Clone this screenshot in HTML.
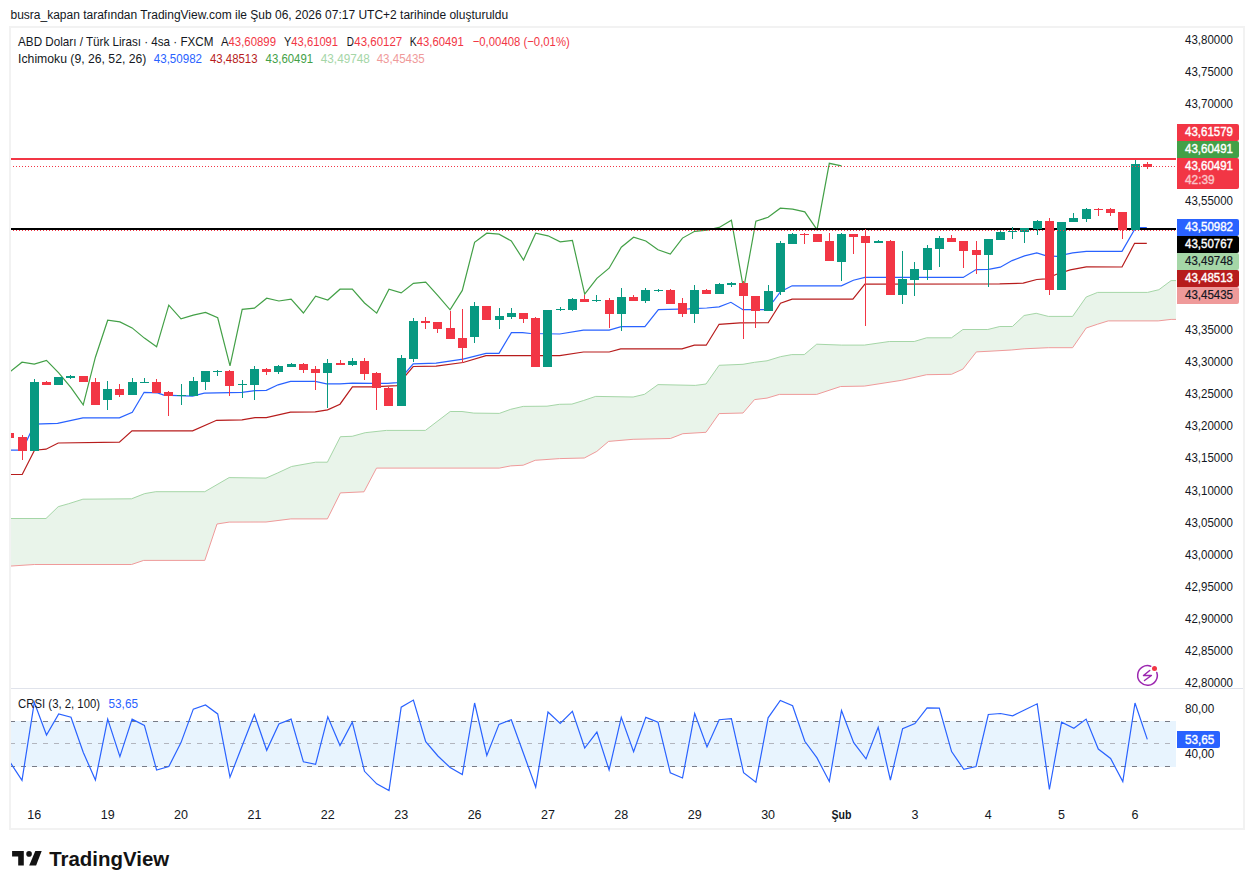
<!DOCTYPE html>
<html><head><meta charset="utf-8"><style>
html,body{margin:0;padding:0;background:#fff;width:1254px;height:889px;overflow:hidden}
svg{display:block;font-family:"Liberation Sans",sans-serif}
</style></head><body>
<svg width="1254" height="889" viewBox="0 0 1254 889">
<rect x="0" y="0" width="1254" height="889" fill="#fff"/>
<rect x="10" y="27" width="1234" height="802" fill="none" stroke="#F2F2F2" stroke-width="2"/>
<rect x="11" y="688" width="1232" height="1" fill="#E0E3EB"/>
<defs><clipPath id="cp"><rect x="11" y="28" width="1165" height="660"/></clipPath><clipPath id="cp2"><rect x="11" y="689" width="1165" height="106"/></clipPath></defs>
<g clip-path="url(#cp)">
<polygon points="10,518.5 46,518.5 58.2,506.7 68.7,503.7 82.9,499.2 131.5,498.8 144.7,493.6 155.8,491.7 204.8,491.7 229.1,477.6 266,478.1 277.8,472.9 291.5,466.5 315.6,462.2 327.4,462.2 340.4,436.7 352.2,436.3 365.2,432.7 386.4,430.4 425.4,430.4 450.2,411.5 462,411.5 473.8,413.1 499.3,413.4 510.7,409.3 523.2,406.4 547,406.2 559.5,404.3 571.9,404.1 583.3,400.6 595.7,396.4 633.1,397 644.5,394.3 658,384.6 695.3,385.4 706,384 719.1,365.3 743,364.3 754.5,362.3 767,360.8 780.4,356.7 791.8,354.6 804.3,354.6 816.7,344.2 841.6,345.1 864.4,345.1 889.3,341.5 914.2,341.5 926.6,337.8 951.5,337.8 962.9,329.5 987.8,329.5 999.8,326.5 1012.4,326.5 1024.1,315.5 1036.2,313.3 1048.3,316.4 1072.6,316.4 1086.2,297 1097.6,292.4 1147.6,292.4 1158.9,289.7 1171.1,280.6 1176,280.6 1176,319.4 1171.1,319.4 1158.2,320.9 1108.2,320.9 1097.6,324.2 1086.2,328 1072.6,347.7 1048.3,347.7 1024.1,348.8 1011.2,350 990,351.2 976.4,351.9 962.9,369.1 951.5,374.3 926.6,374.7 901.7,380.3 864.4,386.1 840.6,386.5 816.7,394.4 779.4,394.4 767,398.1 754.5,399.6 743,413 719.1,413.6 706,432.3 682.8,433.7 670.4,438.5 633.1,439.3 608.6,441.4 596.8,451.4 584.3,458 559.5,458.6 535.2,460.3 523.2,465.2 510.7,465.9 499.3,468.1 376.5,468.1 364,491.8 340.4,492.9 327.4,518.9 290.8,518.9 266,522 229.1,522.1 217,524 204.8,560.4 143.7,560.4 131.5,564.5 34.3,564.5 10,566.1" fill="#E9F4EA"/>
<polyline points="10,518.5 46,518.5 58.2,506.7 68.7,503.7 82.9,499.2 131.5,498.8 144.7,493.6 155.8,491.7 204.8,491.7 229.1,477.6 266,478.1 277.8,472.9 291.5,466.5 315.6,462.2 327.4,462.2 340.4,436.7 352.2,436.3 365.2,432.7 386.4,430.4 425.4,430.4 450.2,411.5 462,411.5 473.8,413.1 499.3,413.4 510.7,409.3 523.2,406.4 547,406.2 559.5,404.3 571.9,404.1 583.3,400.6 595.7,396.4 633.1,397 644.5,394.3 658,384.6 695.3,385.4 706,384 719.1,365.3 743,364.3 754.5,362.3 767,360.8 780.4,356.7 791.8,354.6 804.3,354.6 816.7,344.2 841.6,345.1 864.4,345.1 889.3,341.5 914.2,341.5 926.6,337.8 951.5,337.8 962.9,329.5 987.8,329.5 999.8,326.5 1012.4,326.5 1024.1,315.5 1036.2,313.3 1048.3,316.4 1072.6,316.4 1086.2,297 1097.6,292.4 1147.6,292.4 1158.9,289.7 1171.1,280.6 1176,280.6" fill="none" stroke="#A5D6A7" stroke-width="1"/>
<polyline points="10,566.1 34.3,564.5 131.5,564.5 143.7,560.4 204.8,560.4 217,524 229.1,522.1 266,522 290.8,518.9 327.4,518.9 340.4,492.9 364,491.8 376.5,468.1 499.3,468.1 510.7,465.9 523.2,465.2 535.2,460.3 559.5,458.6 584.3,458 596.8,451.4 608.6,441.4 633.1,439.3 670.4,438.5 682.8,433.7 706,432.3 719.1,413.6 743,413 754.5,399.6 767,398.1 779.4,394.4 816.7,394.4 840.6,386.5 864.4,386.1 901.7,380.3 926.6,374.7 951.5,374.3 962.9,369.1 976.4,351.9 990,351.2 1011.2,350 1024.1,348.8 1048.3,347.7 1072.6,347.7 1086.2,328 1097.6,324.2 1108.2,320.9 1158.2,320.9 1171.1,319.4 1176,319.4" fill="none" stroke="#EF9A9A" stroke-width="1"/>
<polyline points="9.8,371.9 22,362.2 34.3,364.1 46.5,360.4 58.7,372.8 71,387.7 83.2,404.9 95.4,357.2 107.7,320.2 119.9,321.9 132.1,327.9 144.4,338.1 156.6,346.8 168.8,305.2 181,318.9 193.3,315.2 205.5,312.4 217.7,317.8 230,365.9 242.2,309.3 254.4,308.2 266.7,298.2 278.9,301 291.1,299.2 303.4,313 315.6,296.2 327.8,300 340,289.2 352.3,289.2 364.5,303 376.7,313.1 389,289.2 401.2,292.9 413.4,283.3 425.7,282.2 437.9,295.7 450.1,309.8 462.3,290.4 474.6,242.3 486.8,233.2 499,234.2 511.3,241 523.5,260 535.7,233.2 548,235.8 560.2,241.9 572.4,240.4 584.7,294.1 596.9,278.3 609.1,268.2 621.3,247.2 633.6,237.2 645.8,241 658,249.8 670.3,254 682.5,238.1 694.7,231.3 707,230.2 719.2,227.4 731.4,220.2 743.6,288.9 755.9,221.2 768.1,217.3 780.3,208.2 792.6,209.2 804.8,211.9 817,229.6 829.3,163.3 841.5,165.9" fill="none" stroke="#43A047" stroke-width="1.2"/>
<polyline points="10,474.5 22.2,474.5 34.5,450.2 46,449.2 58.2,443 119.4,442.1 132,430.8 192.6,430.8 216.6,420.3 242,419.9 255,417.6 266.3,417.7 290.5,412.1 315.2,411.8 327.6,409.9 340,404.2 352.4,386.8 372,386.8 397,385.7 413.2,366.5 436.1,366.1 463.1,362.5 486,355.7 559.7,355.7 583.4,352 609.2,352 620.7,348.8 682,348.8 694.4,345.2 706.2,345.2 719.1,324.3 740,322.9 768.2,322.7 780.5,303.3 792.1,299.1 852.9,299.1 864.9,284.1 999.7,283.9 1023.2,283.1 1036.8,279.5 1045.5,278.9 1056.6,274.2 1070.2,269.9 1086.3,266.8 1122,267 1134.6,243.3 1146.8,243.3" fill="none" stroke="#B71C1C" stroke-width="1.2"/>
<polyline points="10,450.2 22.3,450.2 34.5,424.2 57.6,423.3 82.9,417.8 119.4,417.8 132.3,412.3 144.1,392.3 157.6,392.9 163.8,395.1 192.5,396.2 204.3,393.2 242,392.3 255,390.6 266.3,390.4 278.1,384.8 290.5,381.4 315.2,381.4 326.5,383.8 340,383.8 352.4,383.1 372,383.4 387.5,383.4 397,382.7 413.2,363.8 436.1,363.2 463.1,359.1 486,353.3 499,353.4 511.4,332.6 522.6,332.6 530.5,333.5 559.7,334 583.4,330.1 609.2,330.1 621.2,326.6 644.9,326.6 658.4,309.7 688.7,308.9 706.7,308 719.1,306.8 730.9,302.3 742.9,309.7 764.3,309.7 773.3,301.3 780.5,291.6 792.1,285.8 841.3,285.8 853.4,280.2 864.9,277.4 963.2,277.4 976.1,269.6 988.6,269.3 1000.3,267.2 1012.1,260.6 1024.5,255.9 1036.8,252.9 1045.5,255.6 1056.6,256.3 1072.7,252.9 1086.3,251.3 1122,251.3 1134.6,229.5 1140.2,227.5 1146.8,227.5" fill="none" stroke="#2962FF" stroke-width="1.2"/>
<rect x="11" y="228" width="1165" height="2" fill="#000"/>
<g shape-rendering="crispEdges">
<rect x="9" y="433" width="1" height="5" fill="#F23645"/>
<rect x="5" y="433" width="9" height="5" fill="#F23645"/>
<rect x="22" y="435" width="1" height="25" fill="#F23645"/>
<rect x="18" y="437" width="9" height="14" fill="#F23645"/>
<rect x="34" y="379" width="1" height="72" fill="#089981"/>
<rect x="30" y="382" width="9" height="69" fill="#089981"/>
<rect x="46" y="381" width="1" height="4" fill="#F23645"/>
<rect x="42" y="382" width="9" height="3" fill="#F23645"/>
<rect x="58" y="377" width="1" height="8" fill="#089981"/>
<rect x="54" y="377" width="9" height="8" fill="#089981"/>
<rect x="70" y="375" width="1" height="4" fill="#089981"/>
<rect x="66" y="376" width="9" height="2" fill="#089981"/>
<rect x="83" y="376" width="1" height="6" fill="#F23645"/>
<rect x="79" y="376" width="9" height="6" fill="#F23645"/>
<rect x="95" y="378" width="1" height="27" fill="#F23645"/>
<rect x="91" y="382" width="9" height="23" fill="#F23645"/>
<rect x="107" y="381" width="1" height="29" fill="#089981"/>
<rect x="103" y="389" width="9" height="11" fill="#089981"/>
<rect x="119" y="384" width="1" height="13" fill="#F23645"/>
<rect x="115" y="389" width="9" height="6" fill="#F23645"/>
<rect x="132" y="378" width="1" height="17" fill="#089981"/>
<rect x="128" y="382" width="9" height="13" fill="#089981"/>
<rect x="144" y="378" width="1" height="5" fill="#089981"/>
<rect x="140" y="382" width="9" height="1" fill="#089981"/>
<rect x="156" y="379" width="1" height="14" fill="#F23645"/>
<rect x="152" y="382" width="9" height="11" fill="#F23645"/>
<rect x="168" y="391" width="1" height="25" fill="#F23645"/>
<rect x="164" y="392" width="9" height="4" fill="#F23645"/>
<rect x="181" y="384" width="1" height="21" fill="#089981"/>
<rect x="177" y="395" width="9" height="1" fill="#089981"/>
<rect x="193" y="377" width="1" height="19" fill="#089981"/>
<rect x="189" y="381" width="9" height="15" fill="#089981"/>
<rect x="205" y="371" width="1" height="19" fill="#089981"/>
<rect x="201" y="371" width="9" height="11" fill="#089981"/>
<rect x="217" y="370" width="1" height="6" fill="#089981"/>
<rect x="213" y="371" width="9" height="1" fill="#089981"/>
<rect x="229" y="370" width="1" height="26" fill="#F23645"/>
<rect x="225" y="371" width="9" height="15" fill="#F23645"/>
<rect x="242" y="380" width="1" height="18" fill="#089981"/>
<rect x="238" y="384" width="9" height="1" fill="#089981"/>
<rect x="254" y="366" width="1" height="34" fill="#089981"/>
<rect x="250" y="369" width="9" height="16" fill="#089981"/>
<rect x="266" y="368" width="1" height="7" fill="#F23645"/>
<rect x="262" y="369" width="9" height="3" fill="#F23645"/>
<rect x="278" y="365" width="1" height="9" fill="#089981"/>
<rect x="274" y="366" width="9" height="6" fill="#089981"/>
<rect x="291" y="363" width="1" height="4" fill="#089981"/>
<rect x="287" y="364" width="9" height="3" fill="#089981"/>
<rect x="303" y="363" width="1" height="10" fill="#F23645"/>
<rect x="299" y="364" width="9" height="6" fill="#F23645"/>
<rect x="315" y="366" width="1" height="24" fill="#F23645"/>
<rect x="311" y="369" width="9" height="4" fill="#F23645"/>
<rect x="327" y="359" width="1" height="49" fill="#089981"/>
<rect x="323" y="363" width="9" height="10" fill="#089981"/>
<rect x="340" y="360" width="1" height="5" fill="#F23645"/>
<rect x="336" y="363" width="9" height="2" fill="#F23645"/>
<rect x="352" y="358" width="1" height="8" fill="#089981"/>
<rect x="348" y="361" width="9" height="4" fill="#089981"/>
<rect x="364" y="358" width="1" height="22" fill="#F23645"/>
<rect x="360" y="361" width="9" height="13" fill="#F23645"/>
<rect x="376" y="372" width="1" height="38" fill="#F23645"/>
<rect x="372" y="373" width="9" height="15" fill="#F23645"/>
<rect x="388" y="387" width="1" height="19" fill="#F23645"/>
<rect x="384" y="388" width="9" height="18" fill="#F23645"/>
<rect x="401" y="355" width="1" height="51" fill="#089981"/>
<rect x="397" y="358" width="9" height="48" fill="#089981"/>
<rect x="413" y="318" width="1" height="44" fill="#089981"/>
<rect x="409" y="321" width="9" height="38" fill="#089981"/>
<rect x="425" y="317" width="1" height="12" fill="#F23645"/>
<rect x="421" y="321" width="9" height="2" fill="#F23645"/>
<rect x="437" y="322" width="1" height="11" fill="#F23645"/>
<rect x="433" y="322" width="9" height="7" fill="#F23645"/>
<rect x="450" y="311" width="1" height="28" fill="#F23645"/>
<rect x="446" y="328" width="9" height="11" fill="#F23645"/>
<rect x="462" y="309" width="1" height="54" fill="#F23645"/>
<rect x="458" y="338" width="9" height="10" fill="#F23645"/>
<rect x="474" y="302" width="1" height="41" fill="#089981"/>
<rect x="470" y="306" width="9" height="31" fill="#089981"/>
<rect x="486" y="306" width="1" height="14" fill="#F23645"/>
<rect x="482" y="306" width="9" height="14" fill="#F23645"/>
<rect x="499" y="308" width="1" height="21" fill="#089981"/>
<rect x="495" y="316" width="9" height="4" fill="#089981"/>
<rect x="511" y="308" width="1" height="11" fill="#089981"/>
<rect x="507" y="313" width="9" height="4" fill="#089981"/>
<rect x="523" y="313" width="1" height="10" fill="#F23645"/>
<rect x="519" y="313" width="9" height="6" fill="#F23645"/>
<rect x="535" y="317" width="1" height="50" fill="#F23645"/>
<rect x="531" y="318" width="9" height="49" fill="#F23645"/>
<rect x="547" y="310" width="1" height="57" fill="#089981"/>
<rect x="543" y="310" width="9" height="57" fill="#089981"/>
<rect x="560" y="307" width="1" height="4" fill="#089981"/>
<rect x="556" y="309" width="9" height="1" fill="#089981"/>
<rect x="572" y="298" width="1" height="13" fill="#089981"/>
<rect x="568" y="299" width="9" height="11" fill="#089981"/>
<rect x="584" y="295" width="1" height="7" fill="#F23645"/>
<rect x="580" y="299" width="9" height="3" fill="#F23645"/>
<rect x="596" y="295" width="1" height="7" fill="#089981"/>
<rect x="592" y="300" width="9" height="1" fill="#089981"/>
<rect x="609" y="298" width="1" height="30" fill="#F23645"/>
<rect x="605" y="300" width="9" height="14" fill="#F23645"/>
<rect x="621" y="288" width="1" height="43" fill="#089981"/>
<rect x="617" y="297" width="9" height="17" fill="#089981"/>
<rect x="633" y="295" width="1" height="6" fill="#F23645"/>
<rect x="629" y="297" width="9" height="4" fill="#F23645"/>
<rect x="645" y="288" width="1" height="15" fill="#089981"/>
<rect x="641" y="290" width="9" height="11" fill="#089981"/>
<rect x="658" y="289" width="1" height="3" fill="#089981"/>
<rect x="654" y="290" width="9" height="1" fill="#089981"/>
<rect x="670" y="289" width="1" height="15" fill="#F23645"/>
<rect x="666" y="290" width="9" height="14" fill="#F23645"/>
<rect x="682" y="298" width="1" height="19" fill="#F23645"/>
<rect x="678" y="303" width="9" height="11" fill="#F23645"/>
<rect x="694" y="285" width="1" height="38" fill="#089981"/>
<rect x="690" y="290" width="9" height="24" fill="#089981"/>
<rect x="706" y="289" width="1" height="5" fill="#F23645"/>
<rect x="702" y="290" width="9" height="4" fill="#F23645"/>
<rect x="719" y="283" width="1" height="11" fill="#089981"/>
<rect x="715" y="284" width="9" height="10" fill="#089981"/>
<rect x="731" y="282" width="1" height="5" fill="#089981"/>
<rect x="727" y="283" width="9" height="2" fill="#089981"/>
<rect x="743" y="281" width="1" height="58" fill="#F23645"/>
<rect x="739" y="283" width="9" height="13" fill="#F23645"/>
<rect x="755" y="296" width="1" height="32" fill="#F23645"/>
<rect x="751" y="296" width="9" height="15" fill="#F23645"/>
<rect x="768" y="285" width="1" height="26" fill="#089981"/>
<rect x="764" y="291" width="9" height="20" fill="#089981"/>
<rect x="780" y="241" width="1" height="54" fill="#089981"/>
<rect x="776" y="243" width="9" height="49" fill="#089981"/>
<rect x="792" y="233" width="1" height="11" fill="#089981"/>
<rect x="788" y="234" width="9" height="10" fill="#089981"/>
<rect x="804" y="233" width="1" height="11" fill="#F23645"/>
<rect x="800" y="234" width="9" height="1" fill="#F23645"/>
<rect x="817" y="234" width="1" height="8" fill="#F23645"/>
<rect x="813" y="234" width="9" height="8" fill="#F23645"/>
<rect x="829" y="233" width="1" height="28" fill="#F23645"/>
<rect x="825" y="241" width="9" height="20" fill="#F23645"/>
<rect x="841" y="233" width="1" height="48" fill="#089981"/>
<rect x="837" y="234" width="9" height="28" fill="#089981"/>
<rect x="853" y="234" width="1" height="20" fill="#F23645"/>
<rect x="849" y="234" width="9" height="3" fill="#F23645"/>
<rect x="865" y="229" width="1" height="97" fill="#F23645"/>
<rect x="861" y="236" width="9" height="7" fill="#F23645"/>
<rect x="878" y="240" width="1" height="3" fill="#089981"/>
<rect x="874" y="241" width="9" height="2" fill="#089981"/>
<rect x="890" y="240" width="1" height="55" fill="#F23645"/>
<rect x="886" y="241" width="9" height="54" fill="#F23645"/>
<rect x="902" y="251" width="1" height="53" fill="#089981"/>
<rect x="898" y="279" width="9" height="16" fill="#089981"/>
<rect x="914" y="262" width="1" height="34" fill="#089981"/>
<rect x="910" y="269" width="9" height="11" fill="#089981"/>
<rect x="927" y="245" width="1" height="35" fill="#089981"/>
<rect x="923" y="248" width="9" height="22" fill="#089981"/>
<rect x="939" y="236" width="1" height="31" fill="#089981"/>
<rect x="935" y="238" width="9" height="11" fill="#089981"/>
<rect x="951" y="235" width="1" height="7" fill="#F23645"/>
<rect x="947" y="238" width="9" height="4" fill="#F23645"/>
<rect x="963" y="241" width="1" height="27" fill="#F23645"/>
<rect x="959" y="241" width="9" height="10" fill="#F23645"/>
<rect x="976" y="241" width="1" height="33" fill="#F23645"/>
<rect x="972" y="250" width="9" height="5" fill="#F23645"/>
<rect x="988" y="239" width="1" height="48" fill="#089981"/>
<rect x="984" y="239" width="9" height="16" fill="#089981"/>
<rect x="1000" y="231" width="1" height="9" fill="#089981"/>
<rect x="996" y="232" width="9" height="8" fill="#089981"/>
<rect x="1012" y="227" width="1" height="12" fill="#089981"/>
<rect x="1008" y="231" width="9" height="1" fill="#089981"/>
<rect x="1024" y="228" width="1" height="15" fill="#089981"/>
<rect x="1020" y="228" width="9" height="4" fill="#089981"/>
<rect x="1037" y="220" width="1" height="15" fill="#089981"/>
<rect x="1033" y="221" width="9" height="8" fill="#089981"/>
<rect x="1049" y="218" width="1" height="77" fill="#F23645"/>
<rect x="1045" y="221" width="9" height="69" fill="#F23645"/>
<rect x="1061" y="222" width="1" height="68" fill="#089981"/>
<rect x="1057" y="222" width="9" height="68" fill="#089981"/>
<rect x="1073" y="213" width="1" height="9" fill="#089981"/>
<rect x="1069" y="218" width="9" height="4" fill="#089981"/>
<rect x="1086" y="208" width="1" height="14" fill="#089981"/>
<rect x="1082" y="209" width="9" height="10" fill="#089981"/>
<rect x="1098" y="208" width="1" height="8" fill="#F23645"/>
<rect x="1094" y="209" width="9" height="1" fill="#F23645"/>
<rect x="1110" y="208" width="1" height="8" fill="#F23645"/>
<rect x="1106" y="209" width="9" height="4" fill="#F23645"/>
<rect x="1122" y="212" width="1" height="27" fill="#F23645"/>
<rect x="1118" y="212" width="9" height="18" fill="#F23645"/>
<rect x="1135" y="160" width="1" height="70" fill="#089981"/>
<rect x="1131" y="164" width="9" height="66" fill="#089981"/>
<rect x="1147" y="162" width="1" height="7" fill="#F23645"/>
<rect x="1143" y="164" width="9" height="3" fill="#F23645"/>
</g>
<rect x="11" y="158" width="1165" height="2" fill="#F23645" shape-rendering="crispEdges"/>
<line x1="10" y1="166.5" x2="1176" y2="166.5" stroke="#F23645" stroke-width="1" stroke-dasharray="1 2"/>
<line x1="10" y1="230.5" x2="1176" y2="230.5" stroke="#F23645" stroke-width="1" stroke-dasharray="1 2"/>
</g>
<g clip-path="url(#cp2)">
<rect x="11" y="721" width="1165" height="46" fill="#E8F4FE"/>
<line x1="10" y1="721.5" x2="1176" y2="721.5" stroke="#787B86" stroke-width="1" stroke-dasharray="5 6"/>
<line x1="10" y1="743.5" x2="1176" y2="743.5" stroke="#B2B5BE" stroke-width="1" stroke-dasharray="5 6"/>
<line x1="10" y1="766.5" x2="1176" y2="766.5" stroke="#787B86" stroke-width="1" stroke-dasharray="5 6"/>
<polyline points="9.8,761.8 22,780.3 34.3,702.4 46.5,735 58.7,713.9 71,717.2 83.2,752.2 95.4,780 107.7,719.1 119.9,756.6 132.1,719.1 144.4,725.4 156.6,770 168.8,766.6 181,742.6 193.3,709.1 205.5,704.9 217.7,713.9 230,777.1 242.2,745.8 254.4,714.5 266.7,750.3 278.9,723.9 291.1,719.1 303.4,761.8 315.6,764.3 327.8,716.8 340,745.5 352.3,722.2 364.5,771.3 376.7,783.8 389,790.5 401.2,707.2 413.4,700.1 425.7,741.7 437.9,756 450.1,767.5 462.3,774.6 474.6,703 486.8,755.5 499,724.4 511.3,719.7 523.5,753.5 535.7,787.2 548,712 560.2,723.5 572.4,711.4 584.7,748 596.9,732.1 609.1,770 621.3,717.4 633.6,751.6 645.8,717.4 658,722.2 670.3,772.7 682.5,778 694.7,713.5 707,747 719.2,719.7 731.4,718.7 743.6,772.7 755.9,782.2 768.1,717.8 780.3,700.5 792.6,705.7 804.8,741.3 817,757.9 829.3,781.5 841.5,710.5 853.7,742.6 866,758.9 878.2,727.3 890.4,780 902.6,728.7 914.9,723.5 927.1,707.8 939.3,708.2 951.6,751.6 963.8,769.4 976,766.6 988.3,714.5 1000.5,713.5 1012.7,715.8 1025,709.7 1037.2,703.8 1049.4,789.5 1061.6,722.2 1073.9,728.3 1086.1,719.1 1098.3,749 1110.6,758.5 1122.8,781.5 1135,703 1147.3,739.4" fill="none" stroke="#2962FF" stroke-width="1.2"/>
</g>
<text x="10.5" y="18.8" font-size="12.5" fill="#131722" font-weight="normal" text-anchor="start" textLength="497.6" lengthAdjust="spacingAndGlyphs">busra_kapan tarafından TradingView.com ile Şub 06, 2026 07:17 UTC+2 tarihinde oluşturuldu</text>
<text x="18.1" y="46" font-size="12.8" fill="#131722" font-weight="normal" text-anchor="start" textLength="195.4" lengthAdjust="spacingAndGlyphs">ABD Doları / Türk Lirası · 4sa · FXCM</text>
<text x="220.9" y="46" font-size="12.8" fill="#131722" font-weight="normal" text-anchor="start" textLength="7.6" lengthAdjust="spacingAndGlyphs">A</text>
<text x="228.5" y="46" font-size="12.8" fill="#F23645" font-weight="normal" text-anchor="start" textLength="47.5" lengthAdjust="spacingAndGlyphs">43,60899</text>
<text x="284" y="46" font-size="12.8" fill="#131722" font-weight="normal" text-anchor="start" textLength="7.3" lengthAdjust="spacingAndGlyphs">Y</text>
<text x="291.3" y="46" font-size="12.8" fill="#F23645" font-weight="normal" text-anchor="start" textLength="46.8" lengthAdjust="spacingAndGlyphs">43,61091</text>
<text x="346.7" y="46" font-size="12.8" fill="#131722" font-weight="normal" text-anchor="start" textLength="7.2" lengthAdjust="spacingAndGlyphs">D</text>
<text x="354.3" y="46" font-size="12.8" fill="#F23645" font-weight="normal" text-anchor="start" textLength="47.9" lengthAdjust="spacingAndGlyphs">43,60127</text>
<text x="409.8" y="46" font-size="12.8" fill="#131722" font-weight="normal" text-anchor="start" textLength="7" lengthAdjust="spacingAndGlyphs">K</text>
<text x="416.8" y="46" font-size="12.8" fill="#F23645" font-weight="normal" text-anchor="start" textLength="47.1" lengthAdjust="spacingAndGlyphs">43,60491</text>
<text x="472.7" y="46" font-size="12.8" fill="#F23645" font-weight="normal" text-anchor="start" textLength="97.1" lengthAdjust="spacingAndGlyphs">−0,00408 (−0,01%)</text>
<text x="18.1" y="62.8" font-size="12.8" fill="#131722" font-weight="normal" text-anchor="start" textLength="128.3" lengthAdjust="spacingAndGlyphs">Ichimoku (9, 26, 52, 26)</text>
<text x="153.8" y="62.8" font-size="12.8" fill="#2962FF" font-weight="normal" text-anchor="start" textLength="48.2" lengthAdjust="spacingAndGlyphs">43,50982</text>
<text x="210" y="62.8" font-size="12.8" fill="#B71C1C" font-weight="normal" text-anchor="start" textLength="47.5" lengthAdjust="spacingAndGlyphs">43,48513</text>
<text x="265.6" y="62.8" font-size="12.8" fill="#43A047" font-weight="normal" text-anchor="start" textLength="47.5" lengthAdjust="spacingAndGlyphs">43,60491</text>
<text x="320.8" y="62.8" font-size="12.8" fill="#A5D6A7" font-weight="normal" text-anchor="start" textLength="49" lengthAdjust="spacingAndGlyphs">43,49748</text>
<text x="376.7" y="62.8" font-size="12.8" fill="#EF9A9A" font-weight="normal" text-anchor="start" textLength="48.1" lengthAdjust="spacingAndGlyphs">43,45435</text>
<text x="1185" y="44" font-size="13" fill="#131722" font-weight="normal" text-anchor="start" textLength="48" lengthAdjust="spacingAndGlyphs">43,80000</text>
<text x="1185" y="76.1" font-size="13" fill="#131722" font-weight="normal" text-anchor="start" textLength="48" lengthAdjust="spacingAndGlyphs">43,75000</text>
<text x="1185" y="108.3" font-size="13" fill="#131722" font-weight="normal" text-anchor="start" textLength="48" lengthAdjust="spacingAndGlyphs">43,70000</text>
<text x="1185" y="204.8" font-size="13" fill="#131722" font-weight="normal" text-anchor="start" textLength="48" lengthAdjust="spacingAndGlyphs">43,55000</text>
<text x="1185" y="333.9" font-size="13" fill="#131722" font-weight="normal" text-anchor="start" textLength="48" lengthAdjust="spacingAndGlyphs">43,35000</text>
<text x="1185" y="365.9" font-size="13" fill="#131722" font-weight="normal" text-anchor="start" textLength="48" lengthAdjust="spacingAndGlyphs">43,30000</text>
<text x="1185" y="398.1" font-size="13" fill="#131722" font-weight="normal" text-anchor="start" textLength="48" lengthAdjust="spacingAndGlyphs">43,25000</text>
<text x="1185" y="430.3" font-size="13" fill="#131722" font-weight="normal" text-anchor="start" textLength="48" lengthAdjust="spacingAndGlyphs">43,20000</text>
<text x="1185" y="462.4" font-size="13" fill="#131722" font-weight="normal" text-anchor="start" textLength="48" lengthAdjust="spacingAndGlyphs">43,15000</text>
<text x="1185" y="494.6" font-size="13" fill="#131722" font-weight="normal" text-anchor="start" textLength="48" lengthAdjust="spacingAndGlyphs">43,10000</text>
<text x="1185" y="526.7" font-size="13" fill="#131722" font-weight="normal" text-anchor="start" textLength="48" lengthAdjust="spacingAndGlyphs">43,05000</text>
<text x="1185" y="558.9" font-size="13" fill="#131722" font-weight="normal" text-anchor="start" textLength="48" lengthAdjust="spacingAndGlyphs">43,00000</text>
<text x="1185" y="591" font-size="13" fill="#131722" font-weight="normal" text-anchor="start" textLength="48" lengthAdjust="spacingAndGlyphs">42,95000</text>
<text x="1185" y="623.2" font-size="13" fill="#131722" font-weight="normal" text-anchor="start" textLength="48" lengthAdjust="spacingAndGlyphs">42,90000</text>
<text x="1185" y="654.9" font-size="13" fill="#131722" font-weight="normal" text-anchor="start" textLength="48" lengthAdjust="spacingAndGlyphs">42,85000</text>
<text x="1185" y="686.8" font-size="13" fill="#131722" font-weight="normal" text-anchor="start" textLength="48" lengthAdjust="spacingAndGlyphs">42,80000</text>
<path d="M1177 124 H1237 Q1239 124 1239 126 V139 Q1239 141 1237 141 H1177 Z" fill="#F23645"/>
<text x="1185" y="136.3" font-size="13" fill="#fff" font-weight="normal" text-anchor="start" textLength="48" lengthAdjust="spacingAndGlyphs" stroke="#fff" stroke-width="0.4">43,61579</text>
<path d="M1177 141 H1237 Q1239 141 1239 143 V156 Q1239 158 1237 158 H1177 Z" fill="#43A047"/>
<text x="1185" y="153.3" font-size="13" fill="#fff" font-weight="normal" text-anchor="start" textLength="48" lengthAdjust="spacingAndGlyphs" stroke="#fff" stroke-width="0.4">43,60491</text>
<path d="M1177 158 H1237 Q1239 158 1239 160 V187 Q1239 189 1237 189 H1177 Z" fill="#F23645"/>
<text x="1185" y="170.3" font-size="13" fill="#fff" font-weight="normal" text-anchor="start" textLength="48" lengthAdjust="spacingAndGlyphs" stroke="#fff" stroke-width="0.4">43,60491</text>
<path d="M1177 219 H1237 Q1239 219 1239 221 V234 Q1239 236 1237 236 H1177 Z" fill="#2962FF"/>
<text x="1185" y="231.3" font-size="13" fill="#fff" font-weight="normal" text-anchor="start" textLength="48" lengthAdjust="spacingAndGlyphs" stroke="#fff" stroke-width="0.4">43,50982</text>
<path d="M1177 236 H1237 Q1239 236 1239 238 V251 Q1239 253 1237 253 H1177 Z" fill="#000000"/>
<text x="1185" y="248.3" font-size="13" fill="#fff" font-weight="normal" text-anchor="start" textLength="48" lengthAdjust="spacingAndGlyphs" stroke="#fff" stroke-width="0.4">43,50767</text>
<path d="M1177 253 H1237 Q1239 253 1239 255 V268 Q1239 270 1237 270 H1177 Z" fill="#A5D6A7"/>
<text x="1185" y="265.3" font-size="13" fill="#131722" font-weight="normal" text-anchor="start" textLength="48" lengthAdjust="spacingAndGlyphs" stroke="#131722" stroke-width="0.2">43,49748</text>
<path d="M1177 270 H1237 Q1239 270 1239 272 V285 Q1239 287 1237 287 H1177 Z" fill="#B71C1C"/>
<text x="1185" y="282.3" font-size="13" fill="#fff" font-weight="normal" text-anchor="start" textLength="48" lengthAdjust="spacingAndGlyphs" stroke="#fff" stroke-width="0.4">43,48513</text>
<path d="M1177 287 H1237 Q1239 287 1239 289 V302 Q1239 304 1237 304 H1177 Z" fill="#EF9A9A"/>
<text x="1185" y="299.3" font-size="13" fill="#131722" font-weight="normal" text-anchor="start" textLength="48" lengthAdjust="spacingAndGlyphs" stroke="#131722" stroke-width="0.2">43,45435</text>
<text x="1185" y="184.3" font-size="13" fill="#FBC4C8" font-weight="normal" text-anchor="start" textLength="29.7" lengthAdjust="spacingAndGlyphs" stroke="#FBC4C8" stroke-width="0.4">42:39</text>
<text x="1185" y="712.8" font-size="13" fill="#131722" font-weight="normal" text-anchor="start" textLength="29.4" lengthAdjust="spacingAndGlyphs">80,00</text>
<text x="1185" y="757.6" font-size="13" fill="#131722" font-weight="normal" text-anchor="start" textLength="29.4" lengthAdjust="spacingAndGlyphs">40,00</text>
<path d="M1177 731 H1218 Q1220 731 1220 733 V746 Q1220 748 1218 748 H1177 Z" fill="#2962FF"/>
<text x="1185" y="743.5" font-size="13" fill="#fff" font-weight="normal" text-anchor="start" textLength="29.4" lengthAdjust="spacingAndGlyphs" stroke="#fff" stroke-width="0.4">53,65</text>
<text x="18.1" y="707.8" font-size="12.8" fill="#131722" font-weight="normal" text-anchor="start" textLength="82" lengthAdjust="spacingAndGlyphs">CRSI (3, 2, 100)</text>
<text x="108.5" y="707.8" font-size="12.8" fill="#2962FF" font-weight="normal" text-anchor="start" textLength="29.5" lengthAdjust="spacingAndGlyphs">53,65</text>
<text x="34.3" y="819" font-size="12.5" fill="#131722" font-weight="normal" text-anchor="middle">16</text>
<text x="107.7" y="819" font-size="12.5" fill="#131722" font-weight="normal" text-anchor="middle">19</text>
<text x="181" y="819" font-size="12.5" fill="#131722" font-weight="normal" text-anchor="middle">20</text>
<text x="254.4" y="819" font-size="12.5" fill="#131722" font-weight="normal" text-anchor="middle">21</text>
<text x="327.8" y="819" font-size="12.5" fill="#131722" font-weight="normal" text-anchor="middle">22</text>
<text x="401.2" y="819" font-size="12.5" fill="#131722" font-weight="normal" text-anchor="middle">23</text>
<text x="474.6" y="819" font-size="12.5" fill="#131722" font-weight="normal" text-anchor="middle">26</text>
<text x="548" y="819" font-size="12.5" fill="#131722" font-weight="normal" text-anchor="middle">27</text>
<text x="621.3" y="819" font-size="12.5" fill="#131722" font-weight="normal" text-anchor="middle">28</text>
<text x="694.7" y="819" font-size="12.5" fill="#131722" font-weight="normal" text-anchor="middle">29</text>
<text x="768.1" y="819" font-size="12.5" fill="#131722" font-weight="normal" text-anchor="middle">30</text>
<text x="841.5" y="819" font-size="12.5" fill="#131722" font-weight="bold" text-anchor="middle" textLength="20" lengthAdjust="spacingAndGlyphs">Şub</text>
<text x="914.9" y="819" font-size="12.5" fill="#131722" font-weight="normal" text-anchor="middle">3</text>
<text x="988.3" y="819" font-size="12.5" fill="#131722" font-weight="normal" text-anchor="middle">4</text>
<text x="1061.6" y="819" font-size="12.5" fill="#131722" font-weight="normal" text-anchor="middle">5</text>
<text x="1135" y="819" font-size="12.5" fill="#131722" font-weight="normal" text-anchor="middle">6</text>
<g fill="none" stroke="#9C27B0" stroke-width="1.5" stroke-linecap="round" stroke-linejoin="round">
<path d="M1150.7 666.2 A9.8 9.8 0 1 0 1156.8 672.4"/>
<path d="M1149.7 670.5 L1143.5 675.5 H1151.4 L1144.5 680.5"/>
</g><circle cx="1154.5" cy="668.4" r="2.5" fill="#F23645"/>
<g fill="#131313">
<path d="M12.1 851.1 H23.8 V865.6 H18.2 V856.5 H12.1 Z"/>
<circle cx="29.05" cy="853.9" r="2.8"/>
<path d="M35.3 851.1 H41.7 L36.1 865.6 H29.2 Z"/>
</g>
<text x="49.2" y="865.8" font-size="20" font-weight="bold" fill="#131313" textLength="120" lengthAdjust="spacingAndGlyphs">TradingView</text>
</svg>
</body></html>
